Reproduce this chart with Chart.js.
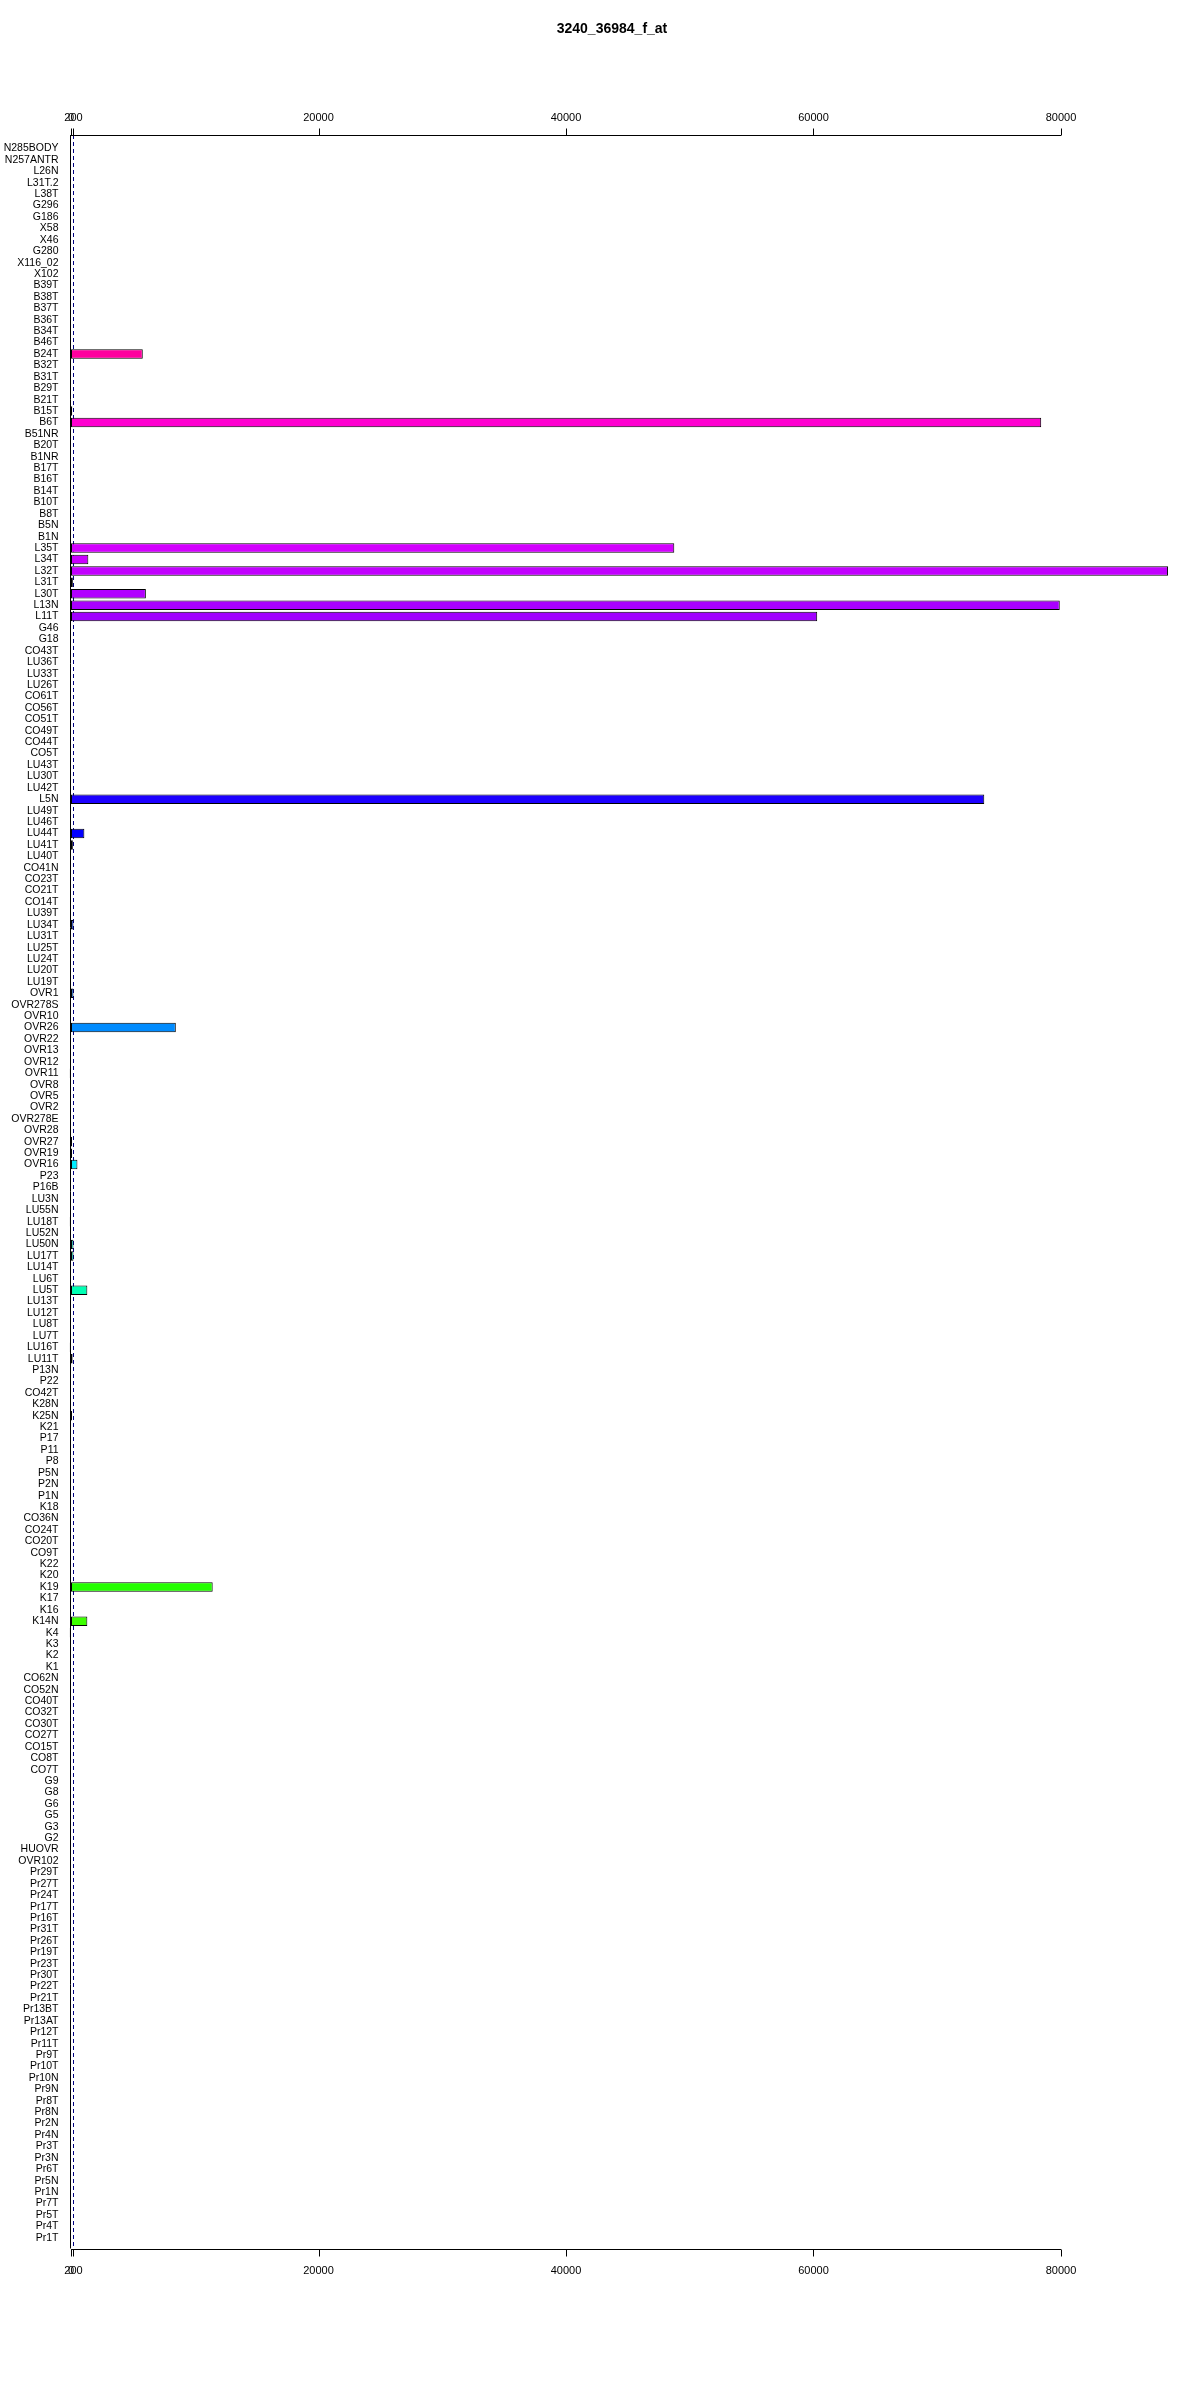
<!DOCTYPE html>
<html>
<head>
<meta charset="utf-8">
<script src="https://cdn.jsdelivr.net/npm/chart.js@4.4.0/dist/chart.umd.min.js"></script>
<style>
  body { margin: 0; background: #fff; }
</style>
</head>
<body>
<canvas id="bars" width="1200" height="2400"></canvas>
<script>
var chartTitle = '3240_36984_f_at'

// samples, top to bottom
var samples = [
  'N285BODY','N257ANTR','L26N','L31T.2','L38T','G296','G186','X58','X46','G280',
  'X116_02','X102','B39T','B38T','B37T','B36T','B34T','B46T','B24T','B32T',
  'B31T','B29T','B21T','B15T','B6T','B51NR','B20T','B1NR','B17T','B16T',
  'B14T','B10T','B8T','B5N','B1N','L35T','L34T','L32T','L31T','L30T',
  'L13N','L11T','G46','G18','CO43T','LU36T','LU33T','LU26T','CO61T','CO56T',
  'CO51T','CO49T','CO44T','CO5T','LU43T','LU30T','LU42T','L5N','LU49T','LU46T',
  'LU44T','LU41T','LU40T','CO41N','CO23T','CO21T','CO14T','LU39T','LU34T','LU31T',
  'LU25T','LU24T','LU20T','LU19T','OVR1','OVR278S','OVR10','OVR26','OVR22','OVR13',
  'OVR12','OVR11','OVR8','OVR5','OVR2','OVR278E','OVR28','OVR27','OVR19','OVR16',
  'P23','P16B','LU3N','LU55N','LU18T','LU52N','LU50N','LU17T','LU14T','LU6T',
  'LU5T','LU13T','LU12T','LU8T','LU7T','LU16T','LU11T','P13N','P22','CO42T',
  'K28N','K25N','K21','P17','P11','P8','P5N','P2N','P1N','K18',
  'CO36N','CO24T','CO20T','CO9T','K22','K20','K19','K17','K16','K14N',
  'K4','K3','K2','K1','CO62N','CO52N','CO40T','CO32T','CO30T','CO27T',
  'CO15T','CO8T','CO7T','G9','G8','G6','G5','G3','G2','HUOVR',
  'OVR102','Pr29T','Pr27T','Pr24T','Pr17T','Pr16T','Pr31T','Pr26T','Pr19T','Pr23T',
  'Pr30T','Pr22T','Pr21T','Pr13BT','Pr13AT','Pr12T','Pr11T','Pr9T','Pr10T','Pr10N',
  'Pr9N','Pr8T','Pr8N','Pr2N','Pr4N','Pr3T','Pr3N','Pr6T','Pr5N','Pr1N',
  'Pr7T','Pr5T','Pr4T','Pr1T'
]

var signal = [
  0,0,0,0,0,0,0,0,0,0,
  0,0,0,0,0,0,0,0,5800,0,
  0,0,0,100,78400,0,0,0,0,0,
  0,0,0,0,0,48750,1400,88650,150,6050,
  79900,60300,0,0,0,0,0,0,0,0,
  0,0,0,0,0,0,0,73800,0,0,
  1080,150,0,0,0,0,0,0,200,0,
  0,0,0,0,200,0,0,8470,0,0,
  0,-100,0,0,0,0,0,80,80,520,
  0,0,0,0,-100,0,200,200,0,0,
  1320,0,0,0,0,-100,130,0,0,0,
  0,80,0,0,0,0,0,0,0,0,
  0,0,0,0,0,0,11450,0,0,1320,
  -100,0,0,0,0,0,0,0,0,0,
  0,0,0,0,0,0,0,0,0,0,
  0,0,0,0,0,0,0,0,0,0,
  0,0,0,0,0,0,0,0,0,0,
  0,0,0,0,0,0,0,0,0,0,
  0,0,0,0
]

var xTicks = [0, 200, 20000, 40000, 60000, 80000]
var xMin = -200
var xMax = 90000
var cutoff = 200

var font = 'Arial, "Liberation Sans", sans-serif'

// rainbow over the bars, counted from the bottom one
function barColor(i) {
  var h = (samples.length - 1 - i) / samples.length * 360
  return 'hsl(' + h + ',100%,50%)'
}

var refLines = {
  id: 'refLines',
  beforeDatasetsDraw: function(chart) {
    var ctx = chart.ctx, a = chart.chartArea, x = chart.scales.x
    var yTop = a.top - 7.8, yBot = a.bottom + 5.1
    ctx.save()
    ctx.lineWidth = 1
    var c = Math.round(x.getPixelForValue(cutoff)) + 0.5
    ctx.strokeStyle = '#000080'
    ctx.setLineDash([4, 3])
    ctx.beginPath(); ctx.moveTo(c, yTop); ctx.lineTo(c, yBot); ctx.stroke()
    ctx.setLineDash([])
    var z = Math.round(x.getPixelForValue(0)) - 0.5
    ctx.strokeStyle = '#000'
    ctx.beginPath(); ctx.moveTo(z, yTop); ctx.lineTo(z, yBot); ctx.stroke()
    ctx.restore()
  },
  afterDatasetsDraw: function(chart) {
    var ctx = chart.ctx, a = chart.chartArea, x = chart.scales.x
    var yTop = Math.round(a.top - 7.8) + 0.5, yBot = Math.round(a.bottom + 5.1) + 0.5
    ctx.save()
    ctx.strokeStyle = '#000'
    ctx.lineWidth = 1
    ;[yTop, yBot].forEach(function(y, k) {
      var x0 = x.getPixelForValue(xTicks[0]), x1 = x.getPixelForValue(xTicks[xTicks.length - 1])
      ctx.beginPath(); ctx.moveTo(x0, y); ctx.lineTo(x1, y); ctx.stroke()
      xTicks.forEach(function(t) {
        var px = Math.round(x.getPixelForValue(t)) + 0.5
        ctx.beginPath(); ctx.moveTo(px, y); ctx.lineTo(px, k ? y + 7 : y - 7); ctx.stroke()
      })
    })
    // title, centred a little right of the page middle
    ctx.fillStyle = '#000'
    ctx.font = 'bold 14px ' + font
    ctx.textAlign = 'center'
    ctx.textBaseline = 'middle'
    ctx.fillText(chartTitle, 612, 29.4)
    ctx.restore()
  }
}

function xAxis(pos, h, pad) {
  return {
    type: 'linear',
    position: pos,
    min: xMin,
    max: xMax,
    afterBuildTicks: function(s) { s.ticks = xTicks.map(function(v) { return { value: v } }) },
    afterFit: function(s) { s.height = h },
    grid: { display: false, drawTicks: false },
    border: { display: false },
    ticks: {
      autoSkip: false, maxRotation: 0, padding: pad, color: '#000',
      font: { family: font, size: 11 },
      callback: function(v) { return String(v) }
    }
  }
}

new Chart(document.getElementById('bars'), {
  type: 'bar',
  data: {
    labels: samples,
    datasets: [{
      data: signal,
      backgroundColor: samples.map(function(s, i) { return barColor(i) }),
      borderColor: '#000',
      borderWidth: 1,
      borderSkipped: false,
      barPercentage: 0.833,
      categoryPercentage: 1
    }]
  },
  options: {
    indexAxis: 'y',
    responsive: false,
    animation: false,
    devicePixelRatio: 1,
    layout: { padding: { left: 0, right: 15.25, top: 0, bottom: 0 } },
    plugins: {
      legend: { display: false },
      tooltip: { enabled: false },
      title: { display: false }
    },
    scales: {
      x: xAxis('bottom', 156.6, 21),
      xTop: xAxis('top', 142.8, 18),
      y: {
        type: 'category',
        offset: true,
        afterFit: function(s) { s.width = 68.525 },
        grid: { display: false, drawTicks: false },
        border: { display: false },
        ticks: {
          autoSkip: false, padding: 10, color: '#000',
          font: { family: font, size: 10.5 }
        }
      }
    }
  },
  plugins: [refLines]
})
</script>
</body>
</html>
